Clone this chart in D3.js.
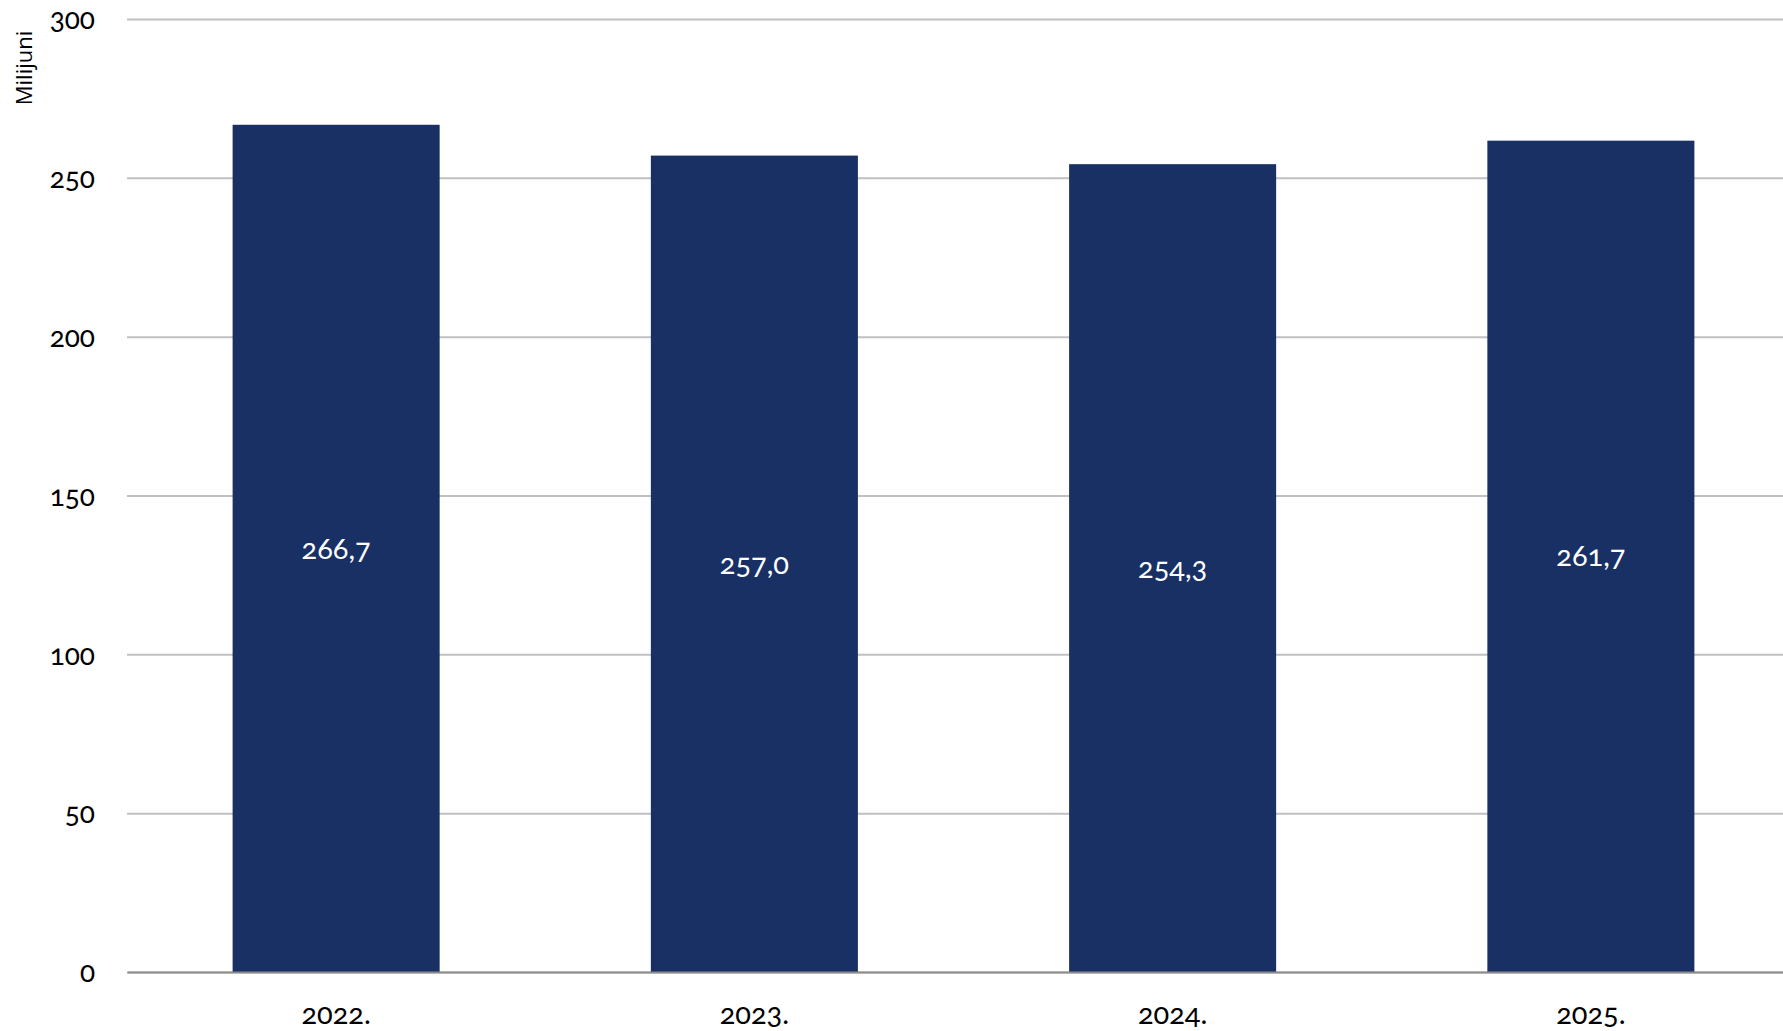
<!DOCTYPE html>
<html>
<head>
<meta charset="utf-8">
<script src="https://cdn.jsdelivr.net/npm/d3@7"></script>
<style>
  html, body { margin: 0; padding: 0; background: #fff; }
  svg text { font-family: "Lato", "Open Sans", sans-serif; font-variant-numeric: oldstyle-nums; }
</style>
</head>
<body>
<svg id="chart" width="1783" height="1031"></svg>
<script>
const categories = ["2022.", "2023.", "2024.", "2025."];
const values = [266.7, 257.0, 254.3, 261.7];
const valueLabels = ["266,7", "257,0", "254,3", "261,7"];
const yTicks = [0, 50, 100, 150, 200, 250, 300];
const yTitle = "Milijuni";

(function () {
const svg = d3.select("#chart");
const mLeft = 127, mRight = 1800, mTop = 19, mBottom = 972;

const x = d3.scaleBand().domain(categories).range([mLeft, mRight]).paddingInner(0.505).paddingOuter(0.2525);
const y = d3.scaleLinear().domain([0, 300]).range([mBottom, mTop]);

// gridlines
const yAxis = d3.axisLeft(y).tickValues(yTicks).tickSize(-(mRight - mLeft)).tickFormat(d => d).tickPadding(32);
const gy = svg.append("g").attr("transform", `translate(${mLeft},0)`).call(yAxis);
gy.select(".domain").remove();
gy.selectAll(".tick line").attr("stroke", "#c0c0c0").attr("stroke-width", 2);
gy.selectAll(".tick text").attr("font-size", 28).attr("fill", "#000").attr("dy", "0.35em")
  .style("font-family", "Lato, 'Open Sans', sans-serif");

// bars
svg.append("g").selectAll("rect").data(values).join("rect")
  .attr("x", (d, i) => x(categories[i]))
  .attr("width", x.bandwidth())
  .attr("y", d => y(d))
  .attr("height", d => y(0) - y(d))
  .attr("fill", "#183064");

// baseline
const xAxis = d3.axisBottom(x).tickSize(0).tickPadding(31);
const gx = svg.append("g").attr("transform", `translate(0,${y(0)})`).call(xAxis);
gx.select(".domain").attr("stroke", "#8c8c8c").attr("stroke-width", 2);
gx.selectAll(".tick text").attr("font-size", 29).attr("fill", "#000")
  .style("font-family", "Lato, 'Open Sans', sans-serif");

// value labels
svg.append("g").selectAll("text").data(values).join("text")
  .attr("x", (d, i) => x(categories[i]) + x.bandwidth() / 2)
  .attr("y", d => (y(d) + y(0)) / 2)
  .attr("dy", "0.35em")
  .attr("text-anchor", "middle")
  .attr("font-size", 29)
  .attr("fill", "#fff")
  .text((d, i) => valueLabels[i]);

// y title
svg.append("text")
  .attr("transform", "translate(32,68) rotate(-90)")
  .attr("text-anchor", "middle")
  .attr("font-size", 22)
  .attr("fill", "#000")
  .style("font-family", "'Open Sans', sans-serif")
  .text(yTitle);
})();
</script>
</body>
</html>
